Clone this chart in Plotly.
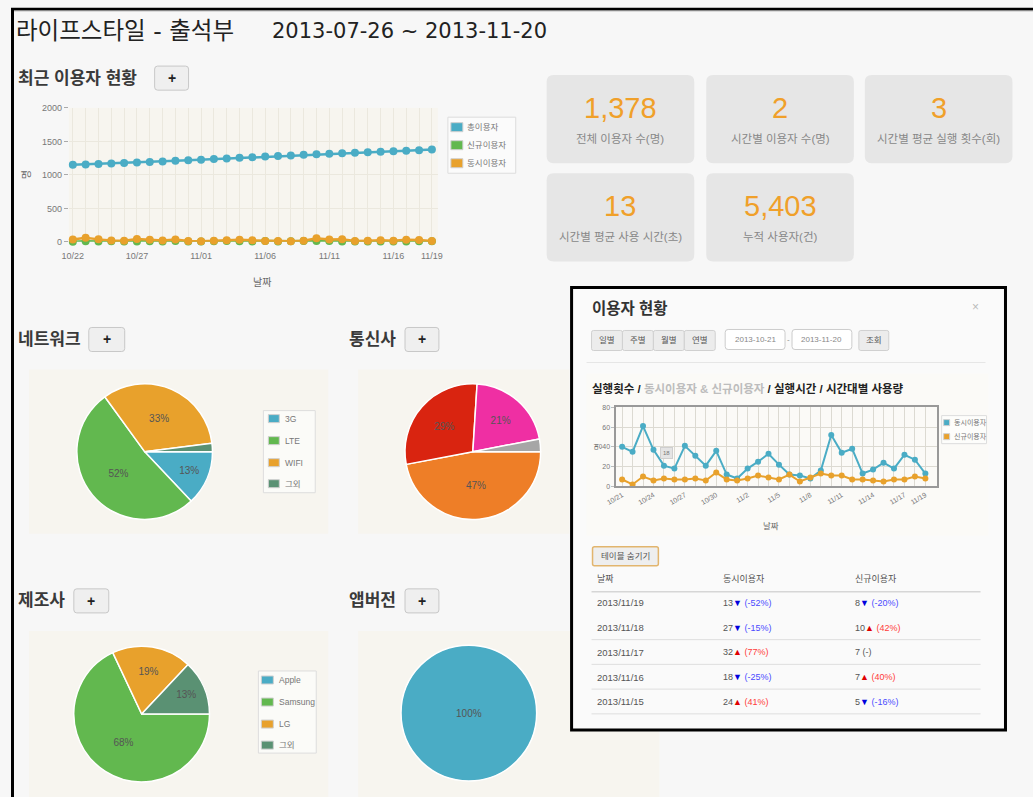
import plotly.graph_objects as go

W, H = 1033, 797
# the photographed page comes out slightly scaled and shifted; positions below are
# reference-picture pixels and X()/Y() undo that mapping
SX, SY, DX, DY = 0.987, 0.986, 10.0, 5.0


def X(px):
    return (px - DX) / SX / W


def Y(py):
    return 1 - (py - DY) / SY / H


FONT = "Liberation Sans, Noto Sans CJK KR, sans-serif"
TITLE_FONT = "DejaVu Sans, Noto Sans CJK KR, sans-serif"
TEAL = "#4aacc5"
GREEN = "#62b84f"
ORANGE = "#e8a12c"
DKGREEN = "#5a9173"
CHART_BG = "#f7f5ef"

# ---- data -------------------------------------------------------------
recent_dates = ["10/22", "10/23", "10/24", "10/25", "10/26", "10/27", "10/28", "10/29", "10/30", "10/31",
                "11/01", "11/02", "11/03", "11/04", "11/05", "11/06", "11/07", "11/08", "11/09", "11/10",
                "11/11", "11/12", "11/13", "11/14", "11/15", "11/16", "11/17", "11/18", "11/19"]
recent_tick_labels = ["10/22", "10/27", "11/01", "11/06", "11/11", "11/16", "11/19"]
total_users = [1150, 1156, 1163, 1170, 1176, 1183, 1191, 1200, 1209, 1218, 1227, 1236, 1245, 1254, 1263,
               1272, 1281, 1290, 1299, 1308, 1316, 1323, 1330, 1337, 1344, 1351, 1358, 1367, 1378]

popup_dates = ["10/21", "10/22", "10/23", "10/24", "10/25", "10/26", "10/27", "10/28", "10/29", "10/30",
               "10/31", "11/1", "11/2", "11/3", "11/4", "11/5", "11/6", "11/7", "11/8", "11/9",
               "11/10", "11/11", "11/12", "11/13", "11/14", "11/15", "11/16", "11/17", "11/18", "11/19"]
popup_tick_labels = ["10/21", "10/24", "10/27", "10/30", "11/2", "11/5", "11/8", "11/11", "11/14", "11/17", "11/19"]
concurrent_users = [40, 35, 61, 37, 21, 18, 41, 31, 21, 36, 12, 8, 18, 25, 33,
                    22, 12, 11, 8, 16, 52, 34, 38, 13, 17, 24, 18, 32, 27, 13]
new_users = [7, 2, 10, 6, 8, 7, 7, 8, 6, 14, 7, 6, 8, 11, 9,
             7, 12, 5, 9, 13, 11, 11, 7, 7, 6, 5, 7, 7, 10, 8]

# table (latest 5 days, newest first) with day-over-day change in %
table_dates = ["2013/11/19", "2013/11/18", "2013/11/17", "2013/11/16", "2013/11/15"]
concurrent_change = [-52, -15, 77, -25, 41]
new_change = [-20, 42, None, 40, -16]

kpi_values = [1378, 2, 3, 13, 5403]
kpi_labels = ["전체 이용자 수(명)", "시간별 이용자 수(명)", "시간별 평균 실행 횟수(회)",
              "시간별 평균 사용 시간(초)", "누적 사용자(건)"]

network_labels = ["3G", "LTE", "WIFI", "그외"]
network_values = [13, 52, 33, 2]
carrier_labels = ["SKT", "KT", "LG U+", "그외"]
carrier_values = [47, 29, 21, 3]
maker_labels = ["Apple", "Samsung", "LG", "그외"]
maker_values = [0, 68, 19, 13]
app_labels = ["1.0"]
app_values = [100]

# ---- helpers ----------------------------------------------------------
shapes = []
annotations = []


def rrect(x0, y0, x1, y1, r=4, fill="#eee", line="#ccc", lw=1):
    a, b, t, u = X(x0), X(x1), Y(y0), Y(y1)
    rx, ry = r / W, r / H
    path = (f"M{a+rx},{t} L{b-rx},{t} Q{b},{t} {b},{t-ry} L{b},{u+ry} Q{b},{u} {b-rx},{u} "
            f"L{a+rx},{u} Q{a},{u} {a},{u+ry} L{a},{t-ry} Q{a},{t} {a+rx},{t} Z")
    shapes.append(dict(type="path", xref="paper", yref="paper", path=path, fillcolor=fill,
                       line=dict(color=line, width=lw), layer="below"))


def rect(x0, y0, x1, y1, fill, line="rgba(0,0,0,0)", lw=0):
    shapes.append(dict(type="rect", xref="paper", yref="paper", x0=X(x0), x1=X(x1), y0=Y(y1), y1=Y(y0),
                       fillcolor=fill, line=dict(color=line, width=lw), layer="below"))


def hline(x0, x1, y, color="#ddd", w=1):
    shapes.append(dict(type="line", xref="paper", yref="paper", x0=X(x0), x1=X(x1), y0=Y(y), y1=Y(y),
                       line=dict(color=color, width=w), layer="below"))


def txt(x, y, s, size=10, color="#333", anchor="left", angle=0, family=FONT, **kw):
    annotations.append(dict(x=X(x), y=Y(y), xref="paper", yref="paper", text=s, showarrow=False,
                            xanchor=anchor, yanchor="middle", textangle=angle,
                            font=dict(size=size, color=color, family=family), **kw))


def section(x, y, title, bx0, bx1):
    txt(x, y, f"<b>{title}</b>", size=17, color="#3a3a3a")
    rrect(bx0, y - 12, bx1, y + 12, r=3, fill="#efefef", line="#c8c8c8")
    txt((bx0 + bx1) / 2, y, "<b>+</b>", size=14, color="#222", anchor="center")


def legend_box(box, names, colors, ys, sx, sw, sh, tx, size):
    rect(*box, "rgba(255,255,255,0.55)", line="#dddddd", lw=1)
    for name, col, ly in zip(names, colors, ys):
        rect(sx, ly - sh / 2, sx + sw, ly + sh / 2, col, line="#d0d0d0", lw=1)
        txt(tx, ly, name, size=size, color="#777")


# ---- page frame & headings -------------------------------------------
shapes.append(dict(type="line", xref="paper", yref="paper", x0=X(11.5), x1=X(11.5), y0=Y(8), y1=Y(810),
                   line=dict(color="black", width=3)))
shapes.append(dict(type="line", xref="paper", yref="paper", x0=X(10), x1=X(1045), y0=Y(9), y1=Y(9),
                   line=dict(color="black", width=2.5)))
hline(12, 1045, 10.8, color="#9a9a9a", w=1)

txt(13, 31, "라이프스타일 - 출석부", size=23.5, color="#222", family=TITLE_FONT)
txt(270, 31, "2013-07-26 ~ 2013-11-20", size=21, color="#222", family=TITLE_FONT)

section(15, 78, "최근 이용자 현황", 154, 188)
section(15, 339, "네트워크", 88, 124)
section(347, 339, "통신사", 405, 439)
section(15, 600, "제조사", 73, 108)
section(347, 600, "앱버전", 405, 439)

# chart backgrounds for the pies
rect(28, 369, 328, 533, CHART_BG)
rect(358, 369, 570, 533, CHART_BG)
rect(28, 630, 328, 810, CHART_BG)
rect(358, 630, 660, 810, CHART_BG)

# KPI boxes
kpi_boxes = [(547, 75), (707, 75), (866, 75), (547, 173), (707, 173)]
for (bx, by), v, lab in zip(kpi_boxes, kpi_values, kpi_labels):
    rrect(bx, by, bx + 148, by + 88, r=7, fill="#e6e6e6", line="rgba(0,0,0,0)", lw=0)
    txt(bx + 74, by + 33, f"{v:,}", size=29, color="#f0a02a", anchor="center")
    txt(bx + 74, by + 64, lab, size=11.5, color="#888", anchor="center")

# ---- first line chart -------------------------------------------------
fig = go.Figure()
recent_ticktext = [d if d in recent_tick_labels else "" for d in recent_dates]
series1 = [("총이용자", total_users, TEAL), ("신규이용자", new_users[1:], GREEN),
           ("동시이용자", concurrent_users[1:], ORANGE)]
for name, vals, col in series1:
    fig.add_trace(go.Scatter(x=recent_dates, y=vals, mode="lines+markers", name=name,
                             line=dict(color=col, width=2.5), marker=dict(color=col, size=8),
                             cliponaxis=False, xaxis="x", yaxis="y"))
legend_box((448, 117, 516, 173), [s[0] for s in series1], [s[2] for s in series1],
           [127, 145, 163], 451, 12, 9, 465, 8.5)
txt(25, 174, "명", size=10, color="#666", anchor="center", angle=-90)
txt(262, 282, "날짜", size=10, color="#666", anchor="center")

# ---- pies ---------------------------------------------------------------


def pie_domain(cx, cy, r=68):
    return dict(x=[X(cx - r), X(cx + r)], y=[Y(cy + r), Y(cy - r)])


pie_common = dict(sort=False, direction="clockwise", rotation=90, texttemplate="%{percent:.0%}",
                  insidetextorientation="horizontal", insidetextfont=dict(size=10, color="#555", family=FONT),
                  hoverinfo="skip", showlegend=False)
pal4 = [TEAL, GREEN, ORANGE, DKGREEN]
fig.add_trace(go.Pie(labels=network_labels, values=network_values, domain=pie_domain(144, 451),
                     marker=dict(colors=pal4, line=dict(color="white", width=1.5)),
                     textposition=["inside", "inside", "inside", "none"], **pie_common))
fig.add_trace(go.Pie(labels=carrier_labels, values=carrier_values, domain=pie_domain(473, 451),
                     marker=dict(colors=["#ee7e27", "#d92410", "#ef2fa3", "#a6a6a6"],
                                 line=dict(color="white", width=1.5)),
                     textposition=["inside", "inside", "inside", "none"], **pie_common))
fig.add_trace(go.Pie(labels=maker_labels, values=maker_values, domain=pie_domain(141, 713),
                     marker=dict(colors=pal4, line=dict(color="white", width=1.5)),
                     textposition=["none", "inside", "inside", "inside"], **pie_common))
fig.add_trace(go.Pie(labels=app_labels, values=app_values, domain=pie_domain(469, 712),
                     marker=dict(colors=[TEAL], line=dict(color="white", width=1.5)),
                     textposition="inside", **pie_common))
legend_box((263, 410, 315, 492), network_labels, pal4, [418, 440, 462, 483], 268, 11, 8, 283, 8.5)
legend_box((258, 670, 316, 752), maker_labels, pal4, [679, 701, 723, 744], 261, 12, 8, 277, 8.5)

# ---- popup --------------------------------------------------------------
rect(572, 287, 1007, 729, "#fafafa", line="black", lw=3)
txt(590, 308, "<b>이용자 현황</b>", size=15.5, color="#333")
txt(977, 307, "×", size=12, color="#bbb", anchor="center")
for i, lab in enumerate(["일별", "주별", "월별", "연별"]):
    rrect(592 + 31 * i, 330, 623 + 31 * i, 350, r=2, fill="#ececec", line="#d0d0d0")
    txt(607.5 + 31 * i, 340, lab, size=8.5, color="#555", anchor="center")
rrect(726, 329, 786, 349, r=3, fill="white", line="#ccc")
txt(756, 339, "2013-10-21", size=8, color="#888", anchor="center")
txt(789, 339, "-", size=8, color="#888", anchor="center")
rrect(793, 329, 853, 349, r=3, fill="white", line="#ccc")
txt(823, 339, "2013-11-20", size=8, color="#888", anchor="center")
rrect(860, 330, 890, 350, r=2, fill="#ececec", line="#d0d0d0")
txt(875, 340, "조회", size=8.5, color="#555", anchor="center")
hline(587, 987, 362, color="#e6e6e6")
rect(587, 373, 990, 535, "#fbfaf7")

txt(590, 388, "<b>실행횟수 / <span style='color:#bdbdbd'>동시이용자 &amp; 신규이용자</span>"
              " / 실행시간 / 시간대별 사용량</b>", size=11.5, color="#222")

popup_ticktext = [d if d in popup_tick_labels else "" for d in popup_dates]
series2 = [("동시이용자", concurrent_users, TEAL), ("신규이용자", new_users, ORANGE)]
for name, vals, col in series2:
    fig.add_trace(go.Scatter(x=popup_dates, y=vals, mode="lines+markers", name=name,
                             line=dict(color=col, width=2), marker=dict(color=col, size=6),
                             cliponaxis=False, xaxis="x2", yaxis="y2"))
legend_box((943, 415, 988, 443), [s[0] for s in series2], [s[2] for s in series2],
           [422, 436], 945, 6, 6, 953, 7)
txt(598, 446, "명", size=8, color="#666", anchor="center", angle=-90)
txt(772, 525, "날짜", size=8.5, color="#666", anchor="center")
annotations.append(dict(x=X(667), y=Y(452), xref="paper", yref="paper", text="18", showarrow=False,
                        font=dict(size=6, color="#777", family=FONT), bgcolor="#e4e4e4",
                        bordercolor="#cfcfcf", borderwidth=1, borderpad=2))

# table
rrect(593, 546, 659, 565, r=2, fill="#eeeeee", line="#e2b56e", lw=1.5)
txt(626, 555.5, "테이블 숨기기", size=8.5, color="#555", anchor="center")
txt(595, 578, "날짜", size=9, color="#555")
txt(722, 578, "동시이용자", size=9, color="#555")
txt(854, 578, "신규이용자", size=9, color="#555")
hline(592, 982, 591, color="#d6d6d6", w=1.5)


def change_text(value, pct):
    if pct is None:
        return f"{value} (-)"
    if pct > 0:
        return f"{value}<span style='color:#e00000'>▲</span> <span style='color:#ff3b3b'>({pct}%)</span>"
    return f"{value}<span style='color:#0000dd'>▼</span> <span style='color:#4a4aff'>({pct}%)</span>"


last = len(popup_dates) - 1
for i, d in enumerate(table_dates):
    ry = 602 + 24.7 * i
    txt(595, ry, d, size=9.5, color="#555")
    txt(722, ry, change_text(concurrent_users[last - i], concurrent_change[i]), size=9, color="#555")
    txt(854, ry, change_text(new_users[last - i], new_change[i]), size=9, color="#555")
    if i > 0:
        hline(592, 982, ry + 12, color="#dedede")

# ---- layout -------------------------------------------------------------
fig.update_layout(
    width=W, height=H, autosize=False,
    margin=dict(l=0, r=0, t=0, b=0),
    paper_bgcolor="#f7f7f7", plot_bgcolor=CHART_BG,
    font=dict(family=FONT, color="#555"),
    showlegend=False,
    hovermode=False,
    xaxis=dict(domain=[X(68), X(438)], anchor="y", type="category", range=[-0.31, 28.47],
               tickvals=recent_dates, ticktext=recent_ticktext, showgrid=True, gridcolor="#ebe8de",
               tickfont=dict(size=9, color="#777"), ticks="outside", ticklen=5, tickcolor="rgba(0,0,0,0)",
               zeroline=False, showline=False),
    yaxis=dict(domain=[Y(241.5), Y(107.7)], anchor="x", range=[0, 2000], dtick=500, showgrid=True,
               gridcolor="#ebe8de", tickfont=dict(size=9, color="#777"), ticks="outside", ticklen=4,
               tickcolor="#aaa", zeroline=False, showline=False),
    xaxis2=dict(domain=[X(617), X(938)], anchor="y2", type="category", range=[-0.54, 30.08],
                tickvals=popup_dates, ticktext=popup_ticktext, tickangle=-30, showgrid=True,
                gridcolor="#dcdad2", tickfont=dict(size=7, color="#777"), showline=True, mirror=True,
                linecolor="#999", linewidth=2, zeroline=False),
    yaxis2=dict(domain=[Y(485.7), Y(406.7)], anchor="x2", range=[0, 80], dtick=20, showgrid=True,
                gridcolor="#dcdad2", tickfont=dict(size=7, color="#777"), showline=True, mirror=True,
                linecolor="#999", linewidth=2, zeroline=False, ticks="outside", ticklen=3,
                tickcolor="#bbb"),
    shapes=shapes,
    annotations=annotations,
)

fig.write_html("out.html", config={"displayModeBar": False},
               post_script="document.body.style.margin='0';document.body.style.overflow='hidden';")
